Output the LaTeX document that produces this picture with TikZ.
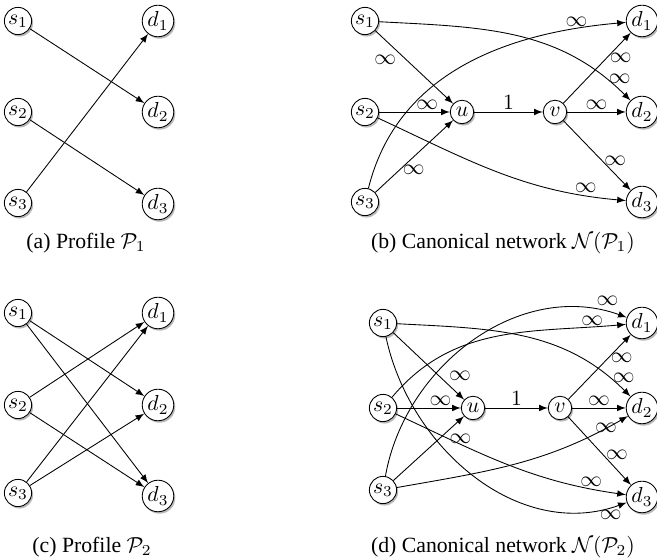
\documentclass[tikz,border=0pt]{standalone}
\usepackage{fontspec}
\setmainfont{Liberation Serif}
\usepackage{amsmath}
\usetikzlibrary{arrows,shadows}
\begin{document}
\begin{tikzpicture}[x=0.46pt,y=0.46pt,
  vert/.style={circle,draw,fill=white,inner sep=0.6pt,minimum size=10.8pt,
    drop shadow={shadow xshift=0.7pt,shadow yshift=-0.9pt,opacity=0.55}},
  flow/.style={-latex,thin},
  lbl/.style={inner sep=1pt}]
\useasboundingbox (0,0) rectangle (657,560);

% (a)
\node [vert] (sa1) at (18,539) {$s_1$};
\node [vert] (sa2) at (18,448) {$s_2$};
\node [vert] (sa3) at (18,357) {$s_3$};
\node [vert] (da1) at (158,539) {$d_1$};
\node [vert] (da2) at (158,448) {$d_2$};
\node [vert] (da3) at (158,356) {$d_3$};
\draw [flow] (sa1) -- (da2);
\draw [flow] (sa2) -- (da3);
\draw [flow] (sa3) -- (da1);
\node (capa) at (86,317) {(a) Profile $\mathcal{P}_1$};

% (b)
\node [vert] (sb1) at (365,539) {$s_1$};
\node [vert] (sb2) at (365,448) {$s_2$};
\node [vert] (sb3) at (365,358) {$s_3$};
\node [vert] (ub) at (462,448) {$u$};
\node [vert] (vb) at (555,448) {$v$};
\node [vert] (db1) at (642,539) {$d_1$};
\node [vert] (db2) at (642,448) {$d_2$};
\node [vert] (db3) at (642,358) {$d_3$};
\draw [flow] (sb1) -- node [lbl,pos=0.3,below left] {$\infty$} (ub);
\draw [flow] (sb2) -- node [lbl,pos=0.68,above] {$\infty$} (ub);
\draw [flow] (sb3) -- node [lbl,pos=0.32,right] {$\infty$} (ub);
\draw [flow] (ub) -- node [lbl,midway,above] {$1$} (vb);
\draw [flow] (vb) -- node [lbl,pos=0.65,right] {$\infty$} (db1);
\draw [flow] (vb) -- node [lbl,midway,above] {$\infty$} (db2);
\draw [flow] (vb) -- node [lbl,pos=0.57,right] {$\infty$} (db3);
\draw [flow] (sb1) to [out=-3,in=135] node [lbl,pos=0.89,right] {$\infty$} (db2);
\draw [flow] (sb3) to [out=76,in=185] node [lbl,pos=0.86,above] {$\infty$} (db1);
\draw [flow] (sb2) to [out=-25,in=175] node [lbl,pos=0.86,above] {$\infty$} (db3);
\node (capb) at (503,317) {(b) Canonical network $\mathcal{N}(\mathcal{P}_1)$};

% (c)
\node [vert] (sc1) at (18,247) {$s_1$};
\node [vert] (sc2) at (18,155) {$s_2$};
\node [vert] (sc3) at (18,67) {$s_3$};
\node [vert] (dc1) at (158,247) {$d_1$};
\node [vert] (dc2) at (158,155) {$d_2$};
\node [vert] (dc3) at (158,64) {$d_3$};
\draw [flow] (sc1) -- (dc2);
\draw [flow] (sc1) -- (dc3);
\draw [flow] (sc2) -- (dc1);
\draw [flow] (sc2) -- (dc3);
\draw [flow] (sc3) -- (dc1);
\draw [flow] (sc3) -- (dc2);
\node (capc) at (92,13) {(c) Profile $\mathcal{P}_2$};

% (d)
\node [vert] (sd1) at (383,237) {$s_1$};
\node [vert] (sd2) at (383,152) {$s_2$};
\node [vert] (sd3) at (383,70) {$s_3$};
\node [vert] (ud) at (473,152) {$u$};
\node [vert] (vd) at (560,152) {$v$};
\node [vert] (dd1) at (642,237) {$d_1$};
\node [vert] (dd2) at (642,152) {$d_2$};
\node [vert] (dd3) at (642,63) {$d_3$};
\draw [flow] (sd1) -- node [lbl,pos=0.75,above right] {$\infty$} (ud);
\draw [flow] (sd2) -- node [lbl,pos=0.68,above] {$\infty$} (ud);
\draw [flow] (sd3) -- node [lbl,pos=0.76,below right] {$\infty$} (ud);
\draw [flow] (ud) -- node [lbl,midway,above] {$1$} (vd);
\draw [flow] (vd) -- node [lbl,pos=0.64,right] {$\infty$} (dd1);
\draw [flow] (vd) -- node [lbl,midway,above] {$\infty$} (dd2);
\draw [flow] (vd) -- node [lbl,pos=0.56,right] {$\infty$} (dd3);
\draw [flow] (sd1) to [out=-3,in=135] node [lbl,pos=0.9,right] {$\infty$} (dd2);
\draw [flow] (sd1) to [out=-78,in=200] node [lbl,pos=0.95,below] {$\infty$} (dd3);
\draw [flow] (sd2) to [out=50,in=185] node [lbl,pos=0.88,above=-0.5pt] {$\infty$} (dd1);
\draw [flow] (sd2) to [out=-25,in=172] node [lbl,pos=0.87,above] {$\infty$} (dd3);
\draw [flow] (sd3) to [out=80,in=160] node [lbl,pos=0.94,above=1.5pt] {$\infty$} (dd1);
\draw [flow] (sd3) to [out=10,in=210] node [lbl,pos=0.85,above right] {$\infty$} (dd2);
\node (capd) at (503,13) {(d) Canonical network $\mathcal{N}(\mathcal{P}_2)$};
\end{tikzpicture}
\end{document}
